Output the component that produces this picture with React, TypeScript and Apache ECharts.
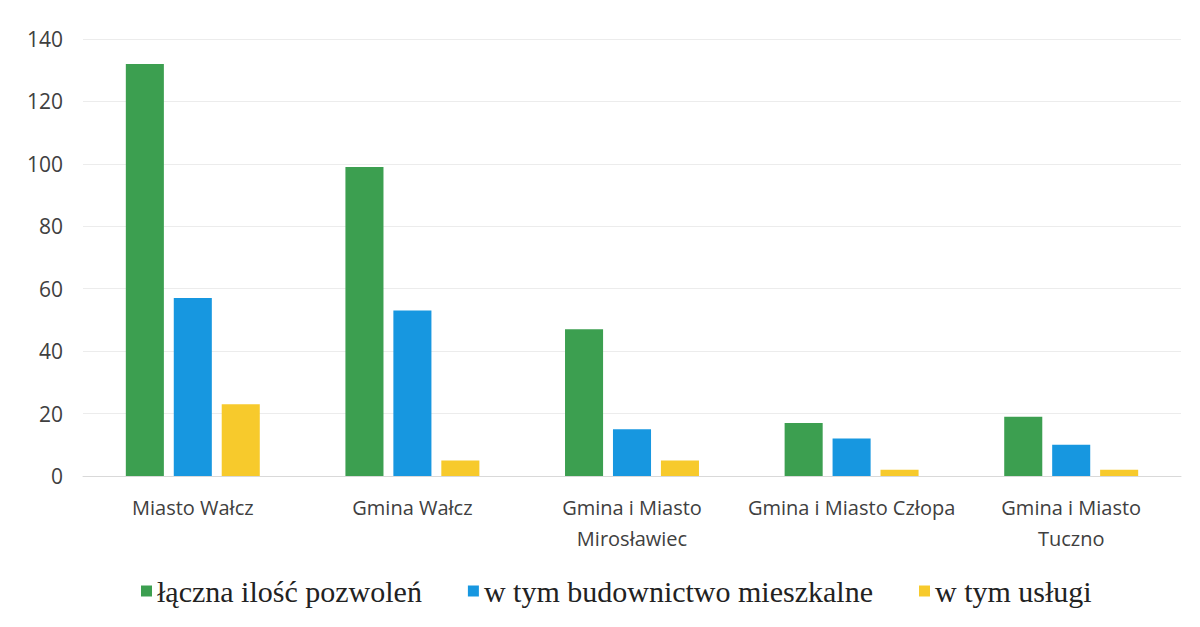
import React, { useEffect, useRef } from "react";
import * as echarts from "echarts";

const categories = [
  "Miasto Wałcz",
  "Gmina Wałcz",
  "Gmina i Miasto\nMirosławiec",
  "Gmina i Miasto Człopa",
  "Gmina i Miasto\nTuczno",
];
const totalPermits = [132, 99, 47, 17, 19];
const housingPermits = [57, 53, 15, 12, 10];
const servicePermits = [23, 5, 5, 2, 2];
const seriesNames = ["łączna ilość pozwoleń", "w tym budownictwo mieszkalne", "w tym usługi"];
const yTicks = { min: 0, max: 140, interval: 20 };

export default function App() {
  const ref = useRef<HTMLDivElement>(null);
  useEffect(() => {
    if (!ref.current) return;
    const chart = echarts.init(ref.current, undefined, { renderer: "svg" });
    const colors = ["#3c9f50", "#1797e0", "#f7ca2c"];
    const data = [totalPermits, housingPermits, servicePermits];
    chart.setOption({
      animation: false,
      backgroundColor: "#ffffff",
      grid: { left: 83, right: 19, top: 39, bottom: 151, containLabel: false },
      legend: {
        bottom: 16,
        left: 136,
        itemWidth: 11,
        itemHeight: 11,
        itemGap: 46,
        icon: "rect",
        textStyle: {
          fontFamily: "Liberation Serif",
          fontSize: 30,
          color: "#222222",
        },
        data: seriesNames,
      },
      xAxis: {
        type: "category",
        data: categories,
        axisLine: { show: true, lineStyle: { color: "#d9d9d9", width: 1 } },
        axisTick: { show: false },
        axisLabel: {
          color: "#404040",
          fontFamily: "Open Sans",
          fontSize: 20,
          lineHeight: 31,
          margin: 16,
          interval: 0,
        },
      },
      yAxis: {
        type: "value",
        min: yTicks.min,
        max: yTicks.max,
        interval: yTicks.interval,
        axisLine: { show: false },
        axisTick: { show: false },
        splitLine: { lineStyle: { color: "#ececec", width: 1 } },
        axisLabel: {
          color: "#404040",
          fontFamily: "Open Sans",
          fontSize: 21,
          margin: 20,
        },
      },
      series: seriesNames.map((name, i) => ({
        name,
        type: "bar",
        data: data[i],
        barGap: "26%",
        barCategoryGap: "39%",
        itemStyle: { color: colors[i] },
      })),
    });
    return () => chart.dispose();
  }, []);
  return <div ref={ref} style={{ width: 1200, height: 627, margin: -8 }} />;
}
